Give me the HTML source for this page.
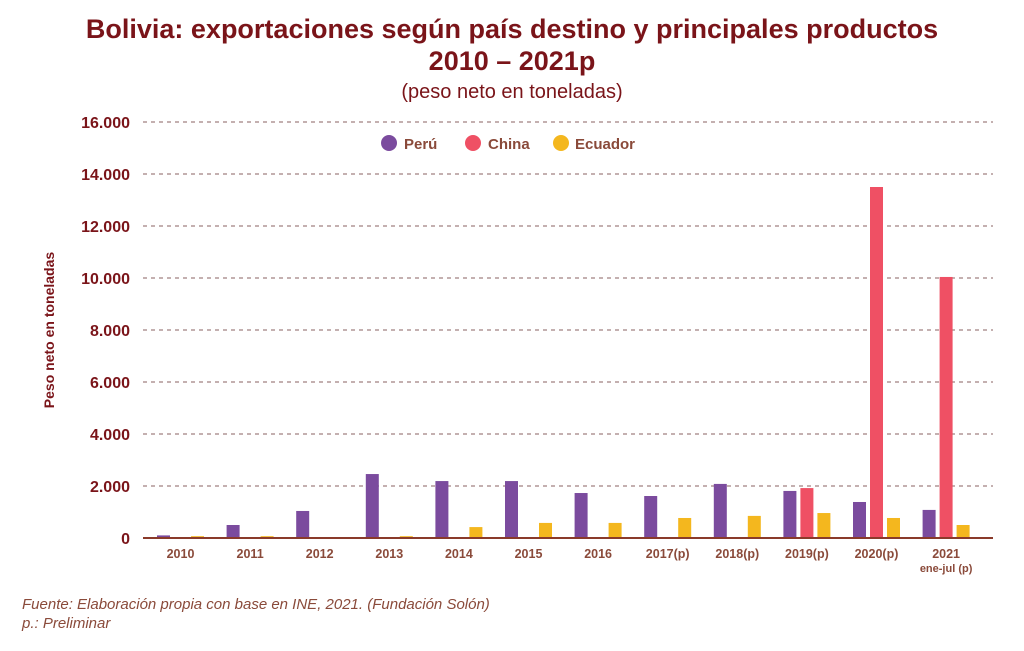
<!DOCTYPE html>
<html><head><meta charset="utf-8"><style>
body{margin:0;background:#fff;width:1024px;height:651px;overflow:hidden}
svg{display:block;font-family:"Liberation Sans",sans-serif}
</style></head><body>
<svg width="1024" height="651" viewBox="0 0 1024 651">
<text x="512" y="38" text-anchor="middle" font-size="27" font-weight="bold" fill="#7a1419">Bolivia: exportaciones según país destino y principales productos</text>
<text x="512" y="70" text-anchor="middle" font-size="27" font-weight="bold" fill="#7a1419">2010 – 2021p</text>
<text x="512" y="98" text-anchor="middle" font-size="20" fill="#7a1419">(peso neto en toneladas)</text>
<g stroke="#a08080" stroke-width="1.3" stroke-dasharray="4,4">
<line x1="143" x2="993" y1="122" y2="122"/><line x1="143" x2="993" y1="174" y2="174"/>
<line x1="143" x2="993" y1="226" y2="226"/><line x1="143" x2="993" y1="278" y2="278"/>
<line x1="143" x2="993" y1="330" y2="330"/><line x1="143" x2="993" y1="382" y2="382"/>
<line x1="143" x2="993" y1="434" y2="434"/><line x1="143" x2="993" y1="486" y2="486"/>
</g>
<g font-size="16" font-weight="bold" fill="#7a1419" text-anchor="end">
<text x="130" y="128">16.000</text><text x="130" y="180">14.000</text><text x="130" y="232">12.000</text>
<text x="130" y="284">10.000</text><text x="130" y="336">8.000</text><text x="130" y="388">6.000</text>
<text x="130" y="440">4.000</text><text x="130" y="492">2.000</text><text x="130" y="544">0</text>
</g>
<text transform="translate(54,330) rotate(-90)" text-anchor="middle" font-size="14" font-weight="bold" fill="#7a1419">Peso neto en toneladas</text>
<g font-size="15" font-weight="bold" fill="#8a4a3a">
<circle cx="389" cy="143" r="8" fill="#7b4b9e"/><text x="404" y="149">Perú</text>
<circle cx="473" cy="143" r="8" fill="#ef5064"/><text x="488" y="149">China</text>
<circle cx="561" cy="143" r="8" fill="#f4b71e"/><text x="575" y="149">Ecuador</text>
</g>
<g id="bars"></g>
<line x1="143" x2="993" y1="538" y2="538" stroke="#8a3a2a" stroke-width="2"/>
<g font-size="12.5" font-weight="bold" fill="#8a4a3a" text-anchor="middle" id="lbl"></g>
<text x="22" y="609" font-size="15" font-style="italic" fill="#8a4a3a">Fuente: Elaboración propia con base en INE, 2021. (Fundación Solón)</text>
<text x="22" y="628" font-size="15" font-style="italic" fill="#8a4a3a">p.: Preliminar</text>
</svg>
<script>
var peru=[100,500,1040,2460,2190,2190,1730,1615,2080,1810,1385,1080];
var china=[0,0,0,0,0,0,0,0,0,1920,13500,10040];
var ecu=[70,70,0,70,420,580,580,770,850,960,770,500];
var labs=["2010","2011","2012","2013","2014","2015","2016","2017(p)","2018(p)","2019(p)","2020(p)","2021"];
var ns="http://www.w3.org/2000/svg",g=document.getElementById("bars"),l=document.getElementById("lbl");
function bar(x,v,c){if(!v)return;var h=v*0.026,r=document.createElementNS(ns,"rect");r.setAttribute("x",x);r.setAttribute("y",538-h);r.setAttribute("width",13);r.setAttribute("height",h);r.setAttribute("fill",c);g.appendChild(r);}
for(var i=0;i<12;i++){var c=180.5+i*69.6;bar(c-23.5,peru[i],"#7b4b9e");bar(c-6.5,china[i],"#ef5064");bar(c+10.5,ecu[i],"#f4b71e");
var t=document.createElementNS(ns,"text");t.setAttribute("x",c);t.setAttribute("y",558);t.textContent=labs[i];l.appendChild(t);}
var t=document.createElementNS(ns,"text");t.setAttribute("x",180.5+11*69.6);t.setAttribute("y",572);t.setAttribute("font-size","11");t.textContent="ene-jul (p)";l.appendChild(t);
</script>
</body></html>
